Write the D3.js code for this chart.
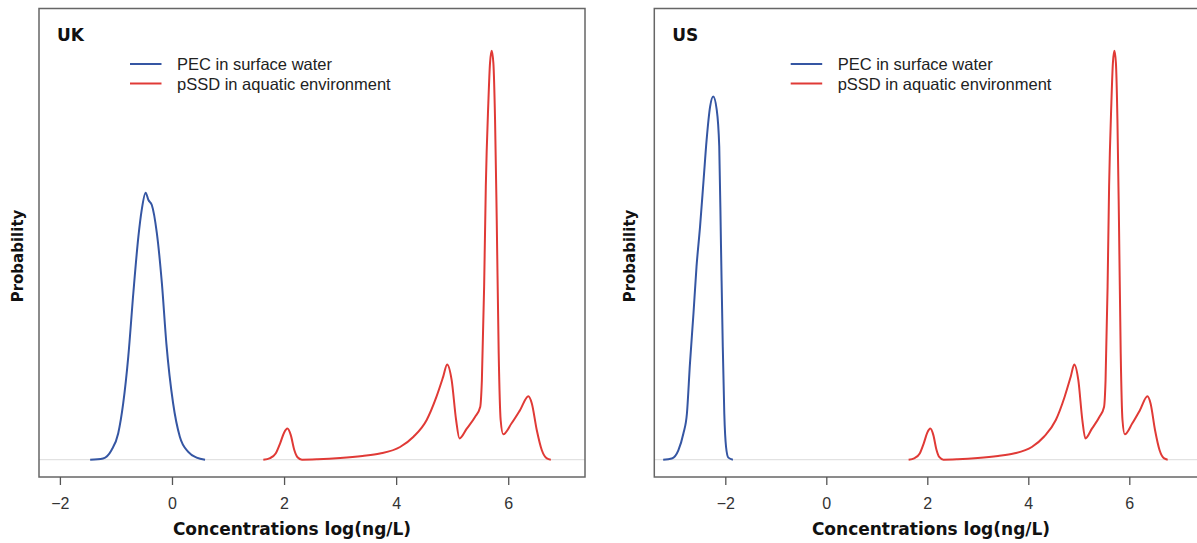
<!DOCTYPE html>
<html>
<head>
<meta charset="utf-8">
<script src="https://cdn.jsdelivr.net/npm/d3@7"></script>
<style>
  body { margin: 0; background: #fff; }
  svg { display: block; }
</style>
</head>
<body>
<script>
//data (y is relative density, tallest red peak = 1)
const panelNames = ["UK", "US"];
const legendLabels = ["PEC in surface water", "pSSD in aquatic environment"];
const xTicks = [-2, 0, 2, 4, 6];

const ukPecX = [-1.46, -1.23, -1.08, -0.96, -0.87, -0.78, -0.69, -0.60, -0.54, -0.47, -0.42, -0.36, -0.27, -0.18, -0.10, 0.02, 0.14, 0.29, 0.44, 0.59];
const ukPecY = [0, 0.003, 0.023, 0.064, 0.138, 0.252, 0.407, 0.545, 0.611, 0.653, 0.635, 0.623, 0.554, 0.431, 0.284, 0.138, 0.056, 0.019, 0.005, 0];

const usPecX = [-3.23, -3.06, -2.93, -2.83, -2.76, -2.70, -2.63, -2.57, -2.50, -2.43, -2.37, -2.30, -2.24, -2.17, -2.12, -2.085, -2.05, -2.02, -1.985, -1.94, -1.85];
const usPecY = [0, 0.003, 0.023, 0.064, 0.113, 0.235, 0.358, 0.472, 0.570, 0.684, 0.782, 0.864, 0.888, 0.856, 0.766, 0.521, 0.276, 0.113, 0.031, 0.005, 0];

const ssdX = [1.63, 1.75, 1.85, 1.93, 2.0, 2.06, 2.12, 2.18, 2.24, 2.32, 2.6, 3.0, 3.4, 3.71, 4.07, 4.31, 4.545, 4.72, 4.84, 4.91, 4.99, 5.07, 5.13, 5.26, 5.41, 5.50, 5.53, 5.57, 5.60, 5.645, 5.675, 5.705, 5.735, 5.765, 5.795, 5.83, 5.865, 5.91, 6.06, 6.21, 6.36, 6.42, 6.51, 6.60, 6.69, 6.76];
const ssdY = [0, 0.004, 0.015, 0.040, 0.066, 0.076, 0.060, 0.025, 0.006, 0, 0.001, 0.004, 0.009, 0.015, 0.031, 0.056, 0.097, 0.154, 0.203, 0.233, 0.195, 0.097, 0.052, 0.076, 0.105, 0.129, 0.195, 0.423, 0.668, 0.872, 0.970, 1.0, 0.970, 0.831, 0.586, 0.26, 0.097, 0.062, 0.089, 0.121, 0.155, 0.138, 0.072, 0.023, 0.003, 0];

const pecSeries = [
  ukPecX.map((x, i) => [x, ukPecY[i]]),
  usPecX.map((x, i) => [x, usPecY[i]])
];
const ssdSeries = ssdX.map((x, i) => [x, ssdY[i]]);

//layout
const blue = "#3556a3";
const red = "#e03a36";
let boxTop = 8.5, boxBottom = 477;
let panels = [
  { left: 39, right: 585, xlim: [-2.373, 7.37], titleX: 292, ylabX: 17 },
  { left: 654.3, right: 1200, xlim: [-3.406, 7.40], titleX: 931, ylabX: 629 }
];

const svg = d3.select("body").append("svg")
  .attr("width", 1197)
  .attr("height", 543);

let yScale = d3.scaleLinear()
  .domain([-0.0424, 1.1035])
  .range([boxBottom, boxTop]);

panels.forEach((p, k) => {
  let xScale = d3.scaleLinear().domain(p.xlim).range([p.left, p.right]);
  let g = svg.append("g").attr("class", "panel");

  //zero line
  g.append("line")
    .attr("x1", p.left).attr("x2", p.right)
    .attr("y1", yScale(0)).attr("y2", yScale(0))
    .attr("stroke", "#e2e2e2").attr("stroke-width", 1.2);

  let line = d3.line()
    .x(d => xScale(d[0]))
    .y(d => yScale(d[1]))
    .curve(d3.curveMonotoneX);

  g.append("path").datum(pecSeries[k])
    .attr("d", line).attr("fill", "none")
    .attr("stroke", blue).attr("stroke-width", 2).attr("stroke-linejoin", "round");

  g.append("path").datum(ssdSeries)
    .attr("d", line).attr("fill", "none")
    .attr("stroke", red).attr("stroke-width", 2).attr("stroke-linejoin", "round");

  //frame
  g.append("rect")
    .attr("x", p.left).attr("y", boxTop)
    .attr("width", p.right - p.left).attr("height", boxBottom - boxTop)
    .attr("fill", "none").attr("stroke", "#666").attr("stroke-width", 1.5);

  //x axis
  let xAxis = d3.axisBottom(xScale)
    .tickValues(xTicks)
    .tickSize(8)
    .tickPadding(13)
    .tickFormat(d3.format("d"));

  let ax = g.append("g")
    .attr("transform", "translate(0," + boxBottom + ")")
    .call(xAxis);
  ax.select(".domain").remove();
  ax.selectAll(".tick line").attr("stroke", "#555").attr("stroke-width", 1.3);
  ax.selectAll(".tick text")
    .attr("fill", "#333")
    .style("font-family", "'Liberation Sans', Arial, sans-serif")
    .style("font-size", "16px");

  g.append("text")
    .attr("x", p.titleX).attr("y", 535)
    .attr("text-anchor", "middle")
    .style("font-family", "'DejaVu Sans', sans-serif")
    .style("font-weight", "bold")
    .style("font-size", "17px")
    .attr("fill", "#111")
    .text("Concentrations log(ng/L)");

  g.append("text")
    .attr("transform", "translate(" + (p.ylabX + 5.5) + ",256) rotate(-90)")
    .attr("text-anchor", "middle")
    .style("font-family", "'DejaVu Sans', sans-serif")
    .style("font-weight", "bold")
    .style("font-size", "15px")
    .attr("fill", "#111")
    .text("Probability");

  //panel name
  g.append("text")
    .attr("x", p.left + 18).attr("y", 41)
    .style("font-family", "'DejaVu Sans', sans-serif")
    .style("font-weight", "bold")
    .style("font-size", "17px")
    .attr("fill", "#111")
    .text(panelNames[k]);

  //legend
  let lx = k == 0 ? 130 : 790.7;
  let legend = g.append("g").attr("class", "legend");
  legend.selectAll("line")
    .data(legendLabels)
    .enter()
    .append("line")
    .attr("x1", lx).attr("x2", lx + 31.5)
    .attr("y1", (d, i) => 64 + i * 19.5)
    .attr("y2", (d, i) => 64 + i * 19.5)
    .attr("stroke", (d, i) => i == 0 ? blue : red)
    .attr("stroke-width", 2);
  legend.selectAll("text")
    .data(legendLabels)
    .enter()
    .append("text")
    .attr("x", lx + 47)
    .attr("y", (d, i) => 64 + i * 19.5 + 6)
    .style("font-family", "'Liberation Sans', Arial, sans-serif")
    .style("font-size", "16.5px")
    .attr("fill", "#222")
    .text(d => d);
});
</script>
</body>
</html>
